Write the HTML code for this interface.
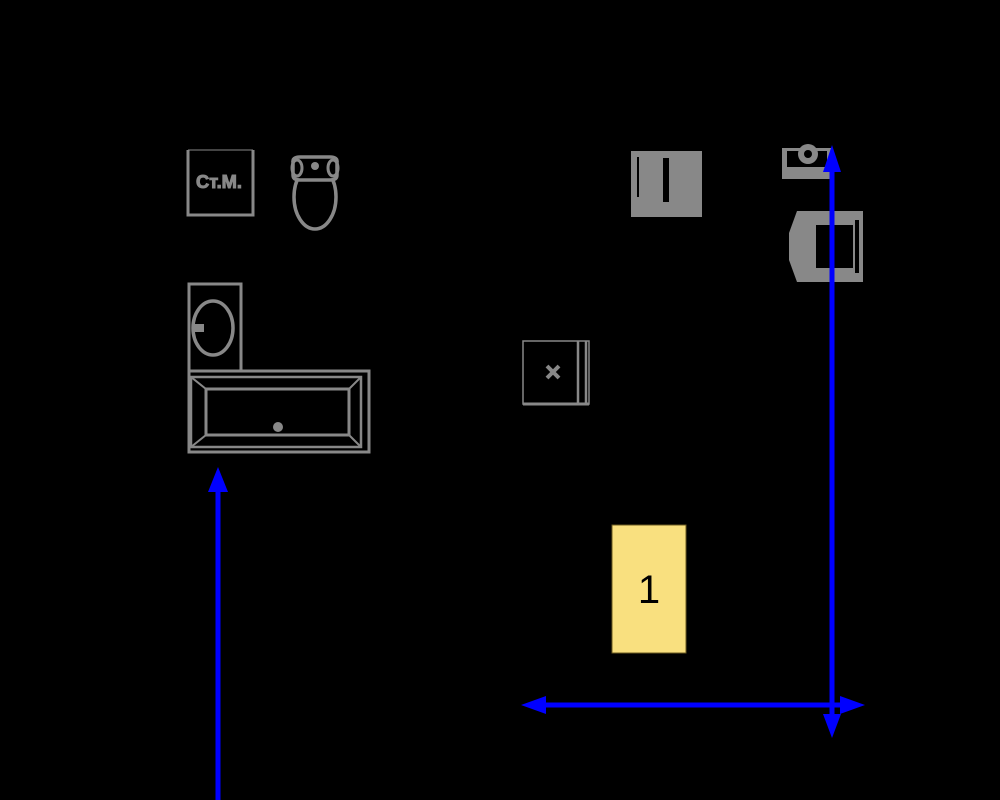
<!DOCTYPE html>
<html><head><meta charset="utf-8"><style>html,body{margin:0;padding:0;background:#000}svg{display:block}</style></head>
<body>
<svg width="1000" height="800" viewBox="0 0 1000 800" xmlns="http://www.w3.org/2000/svg">
<rect width="1000" height="800" fill="#000"/>
<g stroke="#888" fill="none">
<!-- washer -->
<path d="M188 150 V215 H253 V150" stroke-width="3"/>
<path d="M188 150 H253 M188 150 V215" stroke-width="1"/>
<path d="M253 150 V215 H188" stroke-width="3"/>
<text x="219" y="188" font-family="Liberation Sans, sans-serif" font-size="18" font-weight="bold" fill="#888" stroke="#888" stroke-width="1" text-anchor="middle" textLength="46" lengthAdjust="spacingAndGlyphs">Ст.М.</text>
<!-- toilet -->
<ellipse cx="315" cy="197" rx="21" ry="32" stroke-width="3.5"/>
<path d="M293 163 Q292 157 300 157 H330 Q338 157 337 163 V175 Q337 180 330 180 H300 Q293 180 293 175 Z" stroke-width="3.5" fill="#000"/>
<circle cx="315" cy="166" r="4" fill="#888" stroke="none"/>
<ellipse cx="297" cy="168" rx="5" ry="8" stroke-width="3"/>
<ellipse cx="333" cy="168" rx="5" ry="8" stroke-width="3"/>
<!-- sink cabinet -->
<rect x="189" y="284" width="52" height="87" stroke-width="3"/>
<ellipse cx="213" cy="328" rx="20" ry="27" stroke-width="3.5"/>
<rect x="192" y="324" width="12" height="8" fill="#888" stroke="none"/>
<!-- bathtub -->
<rect x="189" y="371" width="180" height="81" stroke-width="3"/>
<rect x="191" y="377" width="170" height="70" stroke-width="2.5"/>
<rect x="206" y="389" width="143" height="46" stroke-width="3"/>
<path d="M191 377 L206 389 M361 377 L349 389 M191 447 L206 435 M361 447 L349 435" stroke-width="2"/>
<circle cx="278" cy="427" r="5" fill="#888" stroke="none"/>
<!-- box x -->
<path d="M523 341 H589 V404 H523 Z" stroke-width="1.5"/>
<path d="M523 404 H589" stroke-width="3"/>
<path d="M578 341 V404 M586 341 V404" stroke-width="2.5"/>
<path d="M547 366 L559 378 M559 366 L547 378" stroke-width="4"/>
</g>
<!-- stove -->
<rect x="631" y="151" width="71" height="66" fill="#888"/>
<rect x="637" y="157" width="2" height="40" fill="#000"/>
<rect x="663" y="158" width="6" height="44" fill="#000"/>
<!-- small sink -->
<rect x="782" y="148" width="50" height="31" fill="#888"/>
<rect x="787" y="151" width="40" height="16" fill="#000"/>
<circle cx="808" cy="154" r="10" fill="#888"/>
<circle cx="808" cy="154" r="4" fill="#000"/>
<!-- armchair -->
<path d="M797 211 H863 V282 H797 L789 260 V233 Z" fill="#888"/>
<rect x="816" y="225" width="37" height="43" fill="#000"/>
<rect x="855" y="220" width="4" height="53" fill="#000"/>
<!-- yellow -->
<rect x="612" y="525" width="74" height="128" fill="#f9e07f" stroke="#6a5a20" stroke-width="1"/>
<text x="649" y="603" font-family="Liberation Sans, sans-serif" font-size="40" fill="#000" text-anchor="middle">1</text>
<!-- blue arrows -->
<g fill="#0000ff" stroke="#0000ff">
<line x1="832" y1="160" x2="832" y2="725" stroke-width="5"/>
<path d="M832 145 L841 172 H823 Z" stroke="none"/>
<path d="M832 738 L823 714 H841 Z" stroke="none"/>
<line x1="535" y1="705" x2="852" y2="705" stroke-width="5"/>
<path d="M521 705 L546 696 V714 Z" stroke="none"/>
<path d="M865 705 L840 696 V714 Z" stroke="none"/>
<line x1="218" y1="485" x2="218" y2="800" stroke-width="5"/>
<path d="M218 467 L228 492 H208 Z" stroke="none"/>
</g>
</svg>
</body></html>
